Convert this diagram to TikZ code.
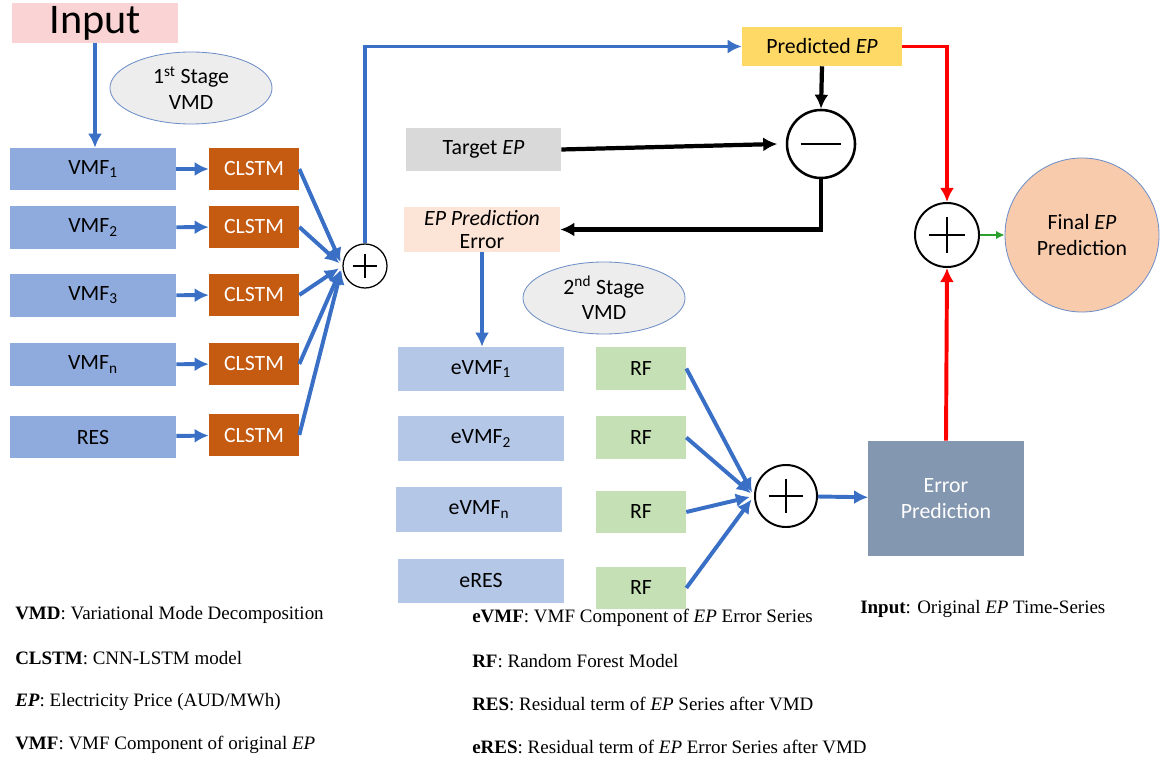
\documentclass[tikz,border=0pt]{standalone}
\usepackage{fontspec}
\setmainfont{Carlito}
\newfontfamily\legendfont{Liberation Serif}
\usetikzlibrary{shapes.geometric, arrows.meta, positioning, calc}

\definecolor{vmfblue}{HTML}{8FAADC}
\definecolor{clstmbrown}{HTML}{C55A11}
\definecolor{evmfblue}{HTML}{B4C7E7}
\definecolor{rfgreen}{HTML}{C5E0B4}
\definecolor{predyellow}{HTML}{FFD966}
\definecolor{targetgray}{HTML}{D9D9D9}
\definecolor{errpeach}{HTML}{FCE4D6}
\definecolor{errslate}{HTML}{8497B0}
\definecolor{finalpeach}{HTML}{F8CBAD}
\definecolor{inputpink}{HTML}{FAD4D4}
\definecolor{stagegray}{HTML}{EDEDED}
\definecolor{stageblue}{HTML}{6F8FC8}
\definecolor{flowblue}{HTML}{3A6FC6}
\definecolor{sumgreen}{HTML}{2CA02C}

\begin{document}
\begin{tikzpicture}[x=0.025cm, y=-0.025cm,
    % Node styles
    box/.style={rectangle, inner sep=0pt, align=center, font=\fontsize{15.5}{18}\selectfont},
    inputbox/.style={box, fill=inputpink, minimum width=4.15cm, minimum height=1.0cm,
                     font=\fontsize{30}{30}\selectfont},
    vmf/.style={box, fill=vmfblue, minimum width=4.15cm, minimum height=1.05cm},
    clstm/.style={box, fill=clstmbrown, text=white, minimum width=2.25cm, minimum height=1.05cm},
    evmf/.style={box, fill=evmfblue, minimum width=4.15cm, minimum height=1.1cm},
    rf/.style={box, fill=rfgreen, minimum width=2.25cm, minimum height=1.05cm},
    stage/.style={ellipse, draw=stageblue, line width=0.6pt, fill=stagegray, inner sep=0pt,
                  minimum width=4.05cm, minimum height=1.8cm, align=center,
                  font=\fontsize{15.5}{18}\selectfont},
    plus/.style={circle, draw, fill=white, inner sep=0pt, path picture={
        \draw[line width=0.9pt] ($(path picture bounding box.west)!0.22!(path picture bounding box.east)$)
            -- ($(path picture bounding box.west)!0.78!(path picture bounding box.east)$);
        \draw[line width=0.9pt] ($(path picture bounding box.north)!0.22!(path picture bounding box.south)$)
            -- ($(path picture bounding box.north)!0.78!(path picture bounding box.south)$);}},
    minus/.style={circle, draw, line width=1.8pt, fill=white, inner sep=0pt, path picture={
        \draw[line width=1.4pt] ($(path picture bounding box.west)!0.2!(path picture bounding box.east)$)
            -- ($(path picture bounding box.west)!0.8!(path picture bounding box.east)$);}},
    final/.style={circle, draw=stageblue, line width=0.6pt, fill=finalpeach, inner sep=0pt,
                  minimum size=3.85cm, align=center, font=\fontsize{15.5}{18}\selectfont},
    legend/.style={anchor=west, inner sep=0pt, font=\legendfont\fontsize{13.5}{16}\selectfont},
    % Arrow styles
    arrow/.style={-{Latex[length=10pt,width=10pt]}, line width=2.8pt, color=flowblue},
    blackarrow/.style={-{Latex[length=10pt,width=10pt]}, line width=3pt, color=black},
    redarrow/.style={-{Latex[length=10pt,width=10pt]}, line width=2.8pt, color=red},
    greenarrow/.style={-{Latex[length=6pt,width=6pt]}, line width=1.6pt, color=sumgreen}
]
\useasboundingbox (0,0) rectangle (1161,761);

% Input and first stage
\node[inputbox] (input) at (95,23) {Input};
\node[stage] (stage1) at (191,88) {1\textsuperscript{st} Stage\\VMD};

% VMF components
\node[vmf] (vmf1) at (93,169) {VMF\textsubscript{1}};
\node[vmf] (vmf2) at (93,227.5) {VMF\textsubscript{2}};
\node[vmf] (vmf3) at (93,295.5) {VMF\textsubscript{3}};
\node[vmf] (vmfn) at (93,364.5) {VMF\textsubscript{n}};
\node[vmf] (res) at (93,437) {RES};

% CLSTM models
\node[clstm] (clstm1) at (254,169) {CLSTM};
\node[clstm] (clstm2) at (254,227) {CLSTM};
\node[clstm] (clstm3) at (254,295) {CLSTM};
\node[clstm] (clstmn) at (254,364) {CLSTM};
\node[clstm] (clstmr) at (254,435) {CLSTM};

% First sum
\node[plus, line width=0.9pt, minimum size=1.1cm] (sum1) at (365,266) {};

% Prediction and error
\node[box, fill=predyellow, minimum width=4.0cm, minimum height=0.975cm] (pred) at (822,46.5) {Predicted \textit{EP}};
\node[minus, minimum size=1.7cm] (diff) at (821,144) {};
\node[box, fill=targetgray, minimum width=3.875cm, minimum height=1.075cm] (target) at (483.5,149.5) {Target \textit{EP}};
\node[box, fill=errpeach, minimum width=3.9cm, minimum height=1.125cm, font=\fontsize{15.5}{17}\selectfont] (err) at (482,229.5) {\textit{EP Prediction}\\Error};

% Second stage
\node[stage] (stage2) at (604,298) {2\textsuperscript{nd} Stage\\VMD};
\node[evmf] (evmf1) at (481,369) {eVMF\textsubscript{1}};
\node[evmf] (evmf2) at (481,438.5) {eVMF\textsubscript{2}};
\node[evmf] (evmfn) at (479,509.5) {eVMF\textsubscript{n}};
\node[evmf] (eres) at (481,580.5) {eRES};
\node[rf] (rf1) at (641,368.5) {RF};
\node[rf] (rf2) at (641,437.5) {RF};
\node[rf] (rfn) at (641,512) {RF};
\node[rf] (rfr) at (641,588) {RF};
\node[plus, line width=1.4pt, minimum size=1.55cm] (sum2) at (786,496) {};
\node[box, fill=errslate, text=white, minimum width=3.875cm, minimum height=2.875cm] (errpred) at (946,498.5) {Error\\Prediction};

% Final output
\node[plus, line width=1.4pt, minimum size=1.6cm] (sum3) at (947,235) {};
\node[final] (final) at (1082,235) {Final \textit{EP}\\Prediction};

% Arrows
\draw[arrow] (input.south) -- (input.south |- vmf1.north);
\draw[arrow] (vmf1) -- (clstm1);
\draw[arrow] (vmf2) -- (clstm2);
\draw[arrow] (vmf3) -- (clstm3);
\draw[arrow] (vmfn) -- (clstmn);
\draw[arrow] (res) -- (clstmr);
\draw[arrow, shorten >=3pt] (clstm1.east) -- (sum1.west);
\draw[arrow, shorten >=3pt] (clstm2.east) -- (sum1.west);
\draw[arrow, shorten >=3pt] (clstm3.east) -- (sum1.west);
\draw[arrow, shorten >=3pt] (clstmn.east) -- (sum1.west);
\draw[arrow, shorten >=3pt] (clstmr.east) -- (sum1.west);
\draw[arrow] (sum1.north) |- (pred.west);
\draw[blackarrow] (pred.south) -- (diff.north);
\draw[blackarrow] (target.east) -- ([xshift=-6pt]diff.west);
\draw[blackarrow] (diff.south) |- (err.east);
\draw[arrow] (err.south) -- (err.south |- evmf1.north);
\draw[arrow, shorten >=3pt] (rf1.east) -- (sum2.west);
\draw[arrow, shorten >=3pt] (rf2.east) -- (sum2.west);
\draw[arrow, shorten >=3pt] (rfn.east) -- (sum2.west);
\draw[arrow, shorten >=3pt] (rfr.east) -- (sum2.west);
\draw[arrow] (sum2) -- (errpred);
\draw[redarrow] (errpred.north) -- (sum3.south);
\draw[redarrow] (pred.east) -| (sum3.north);
\draw[greenarrow] (sum3) -- (final);

% Legend
\node[legend] (lvmd) at (15,615) {\textbf{VMD}: Variational Mode Decomposition};
\node[legend] (lclstm) at (15,658) {\textbf{CLSTM}: CNN-LSTM model};
\node[legend] (lep) at (15,702) {\textbf{\textit{EP}}: Electricity Price (AUD/MWh)};
\node[legend] (lvmf) at (15,745) {\textbf{VMF}: VMF Component of original \textit{EP}};
\node[legend] (levmf) at (472,618) {\textbf{eVMF}: VMF Component of \textit{EP} Error Series};
\node[legend] (lrf) at (472,661) {\textbf{RF}: Random Forest Model};
\node[legend] (lres) at (472,704) {\textbf{RES}: Residual term of \textit{EP} Series after VMD};
\node[legend] (leres) at (472,747) {\textbf{eRES}: Residual term of \textit{EP} Error Series after VMD};
\node[legend] (linput) at (860,609) {\textbf{Input}: Original \textit{EP} Time-Series};
\end{tikzpicture}
\end{document}
